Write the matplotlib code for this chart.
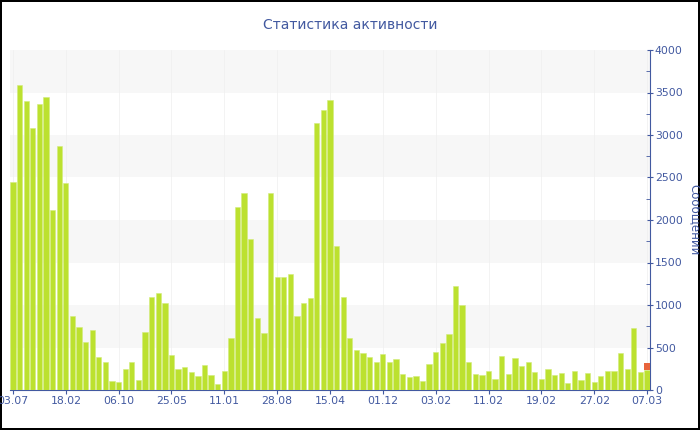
import matplotlib.pyplot as plt
import numpy as np
from matplotlib.ticker import MultipleLocator

# значения сообщений по периодам
green_vals = [2450, 3590, 3400, 3085, 3360, 3445, 2115, 2870, 2430, 865,
              745, 560, 705, 390, 325, 105, 100, 250, 330, 120,
              680, 1090, 1145, 1020, 415, 245, 275, 210, 165, 295,
              175, 65, 225, 610, 2155, 2315, 1775, 845, 675, 2320,
              1325, 1335, 1370, 865, 1020, 1080, 3140, 3290, 3410, 1700,
              1100, 610, 470, 435, 390, 330, 420, 325, 360, 185,
              150, 160, 105, 305, 445, 550, 655, 1225, 995, 335,
              190, 175, 225, 130, 400, 190, 375, 280, 335, 210,
              125, 245, 175, 200, 85, 225, 120, 200, 95, 165,
              225, 220, 440, 250, 735, 215, 235]
red_vals = [0] * 96 + [80]
tick_labels = ['03.07', '18.02', '06.10', '25.05', '11.01', '28.08', '15.04',
               '01.12', '03.02', '11.02', '19.02', '27.02', '07.03']

blue = '#4259a0'
green = '#bce12f'
red = '#e8643c'

fig = plt.figure(figsize=(7, 4.3), dpi=100)
fig.patch.set_edgecolor('black')
fig.patch.set_linewidth(1.5)
ax = fig.add_axes([10/700, 40/430, 640/700, 340/430])

x = np.arange(len(green_vals))
ax.bar(x, green_vals, width=0.8, color=green, edgecolor='#d2ec7c', linewidth=0.4, zorder=3)
ax.bar(x, red_vals, width=0.8, bottom=green_vals, color=red, linewidth=0, zorder=3)

# полосы фона
for lo in [500, 1500, 2500, 3500]:
    ax.axhspan(lo, lo + 500, color='#f7f7f7', zorder=0, linewidth=0)

ax.set_xlim(-0.45, len(green_vals) - 0.55)
ax.set_ylim(0, 4000)

tick_pos = np.arange(0, len(green_vals), 8)
ax.set_xticks(tick_pos)
ax.set_xticklabels(tick_labels)
for p in tick_pos:
    ax.axvline(p, color='#f1f1f1', linewidth=0.6, zorder=1)

ax.yaxis.tick_right()
ax.yaxis.set_label_position('right')
ax.yaxis.set_major_locator(MultipleLocator(500))
ax.yaxis.set_minor_locator(MultipleLocator(250))
ax.tick_params(axis='y', which='major', direction='inout', length=5, color=blue,
               labelcolor=blue, labelsize=7.8, pad=1)
ax.tick_params(axis='y', which='minor', direction='in', length=3, color=blue)
ax.tick_params(axis='x', direction='out', length=3, color=blue,
               labelcolor=blue, labelsize=7.8, pad=1)

for side in ['top', 'left']:
    ax.spines[side].set_visible(False)
ax.spines['right'].set_color(blue)
ax.spines['bottom'].set_color(blue)

ax.set_ylabel('Сообщений', color=blue, fontsize=8.5, rotation=270)
ax.yaxis.set_label_coords(1.08, 0.5)

fig.text(0.5, 1 - 25/430, 'Статистика активности', ha='center', va='center',
         color=blue, fontsize=10)

fig.savefig('out.png', dpi=100, edgecolor=fig.get_edgecolor())
